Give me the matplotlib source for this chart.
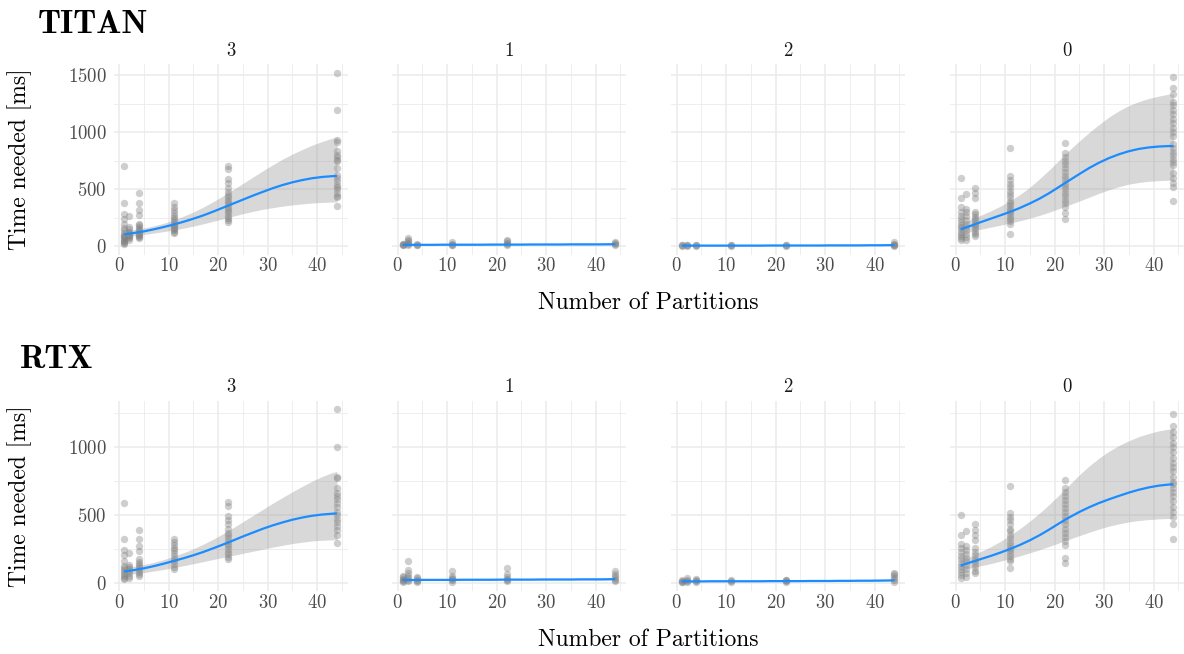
import numpy as np
import matplotlib.pyplot as plt

plt.rcParams['font.family'] = 'cmr10'
plt.rcParams['mathtext.fontset'] = 'cm'
plt.rcParams['axes.formatter.use_mathtext'] = True

partitions = [1, 2, 4, 11, 22, 44]
facets = ['3', '1', '2', '0']
fit_x = [1, 3, 5, 7, 9, 11, 13, 15, 17, 19, 21, 23, 25, 27, 29, 31, 33, 35, 37, 39, 41, 43, 44]

# ---- TITAN: measured times [ms], one list per partition count ----
titan_3 = [
    [706, 382, 282, 244, 200, 160, 140, 120, 100, 90, 80, 70, 60, 50, 40, 30, 25],
    [265, 170, 150, 130, 120, 110, 100, 90, 80, 70, 60],
    [465, 382, 323, 279, 200, 190, 170, 150, 140, 130, 120, 110, 100, 90, 80, 70],
    [382, 350, 318, 290, 270, 250, 230, 210, 200, 190, 180, 170, 160, 150, 140, 130, 120],
    [706, 676, 588, 553, 509, 480, 450, 430, 410, 390, 370, 350, 330, 310, 290, 270, 250, 230, 210],
    [1524, 1194, 929, 920, 841, 800, 780, 760, 750, 685, 630, 600, 570, 540, 520, 500, 470, 440, 430, 356],
]
titan_1 = [
    [10, 15, 20, 25],
    [10, 20, 30, 45, 60, 70],
    [10, 15, 20],
    [10, 15, 20, 35],
    [12, 20, 30, 45, 55],
    [12, 20, 30, 40],
]
titan_2 = [
    [5, 8, 10],
    [5, 8, 12],
    [5, 8, 10],
    [5, 8, 10],
    [5, 8, 10],
    [5, 10, 15, 25, 35],
]
titan_0 = [
    [603, 426, 347, 300, 270, 240, 210, 190, 170, 150, 130, 110, 90, 70, 55],
    [456, 330, 300, 270, 230, 200, 170, 140, 110, 80, 60],
    [515, 465, 421, 303, 280, 260, 240, 220, 200, 185, 170, 150, 130, 110, 90],
    [862, 618, 582, 550, 520, 490, 460, 430, 400, 380, 360, 340, 320, 300, 280, 260, 240, 220, 200, 112],
    [906, 818, 780, 750, 720, 690, 650, 620, 590, 560, 530, 500, 470, 440, 410, 380, 350, 294, 244],
    [1488, 1391, 1333, 1270, 1240, 1200, 1160, 1120, 1080, 1040, 1000, 965, 900, 860, 830, 800,
     770, 740, 710, 640, 600, 560, 523, 400],
]

# smoother (fit, lower, upper) read at fit_x
titan_3_fit = [105, 118, 132, 150, 170, 192, 216, 243, 272, 305, 340, 375, 410, 445, 478, 510,
               538, 562, 582, 598, 609, 616, 618]
titan_3_lo = [80, 93, 105, 117, 130, 144, 160, 178, 198, 220, 242, 265, 287, 307, 325, 340,
              353, 364, 373, 381, 386, 389, 390]
titan_3_hi = [135, 148, 162, 180, 203, 232, 265, 302, 345, 392, 443, 497, 552, 607, 662, 715,
              765, 810, 850, 888, 920, 948, 958]
titan_1_fit = [14, 14, 14, 14, 15, 15, 15, 15, 15, 16, 16, 16, 16, 17, 17, 17, 17, 18, 18, 18, 18, 19, 19]
titan_1_lo = [10, 11, 11, 11, 12, 12, 12, 12, 13, 13, 13, 13, 13, 14, 14, 14, 14, 14, 14, 14, 14, 14, 14]
titan_1_hi = [18, 17, 17, 17, 18, 18, 18, 18, 18, 19, 19, 19, 19, 20, 20, 21, 21, 22, 22, 23, 23, 24, 24]
titan_2_fit = [7, 7, 7, 7, 7, 7, 7, 7, 7, 8, 8, 8, 8, 8, 8, 9, 9, 9, 9, 10, 10, 11, 11]
titan_2_lo = [5, 5, 5, 5, 6, 6, 6, 6, 6, 6, 6, 6, 6, 6, 6, 6, 6, 6, 7, 7, 7, 7, 7]
titan_2_hi = [9, 9, 9, 8, 8, 8, 8, 9, 9, 9, 9, 10, 10, 10, 10, 11, 11, 12, 12, 13, 13, 14, 15]
titan_0_fit = [150, 180, 212, 242, 272, 303, 338, 377, 420, 470, 525, 580, 635, 688, 735, 775,
               808, 835, 855, 868, 876, 880, 880]
titan_0_lo = [105, 128, 150, 168, 186, 205, 225, 248, 273, 302, 333, 365, 398, 432, 466, 497,
              524, 546, 561, 571, 577, 580, 580]
titan_0_hi = [200, 235, 272, 310, 352, 400, 455, 520, 595, 675, 760, 845, 925, 1000, 1070, 1135,
              1190, 1235, 1270, 1297, 1318, 1335, 1340]

# ---- RTX ----
rtx_3 = [
    [590, 321, 240, 209, 159, 125, 110, 95, 80, 65, 50, 40, 30],
    [221, 135, 120, 100, 85, 70, 55, 40],
    [388, 321, 273, 233, 174, 155, 140, 125, 110, 95, 80, 65, 50],
    [327, 302, 280, 260, 240, 220, 200, 180, 160, 140, 120, 100],
    [597, 565, 494, 462, 430, 400, 370, 350, 330, 310, 290, 270, 250, 230, 210, 190, 180],
    [1277, 1002, 776, 770, 700, 660, 640, 620, 590, 560, 520, 500, 470, 445, 420, 390, 355, 297],
]
rtx_1 = [
    [10, 15, 20, 30, 42, 54],
    [15, 25, 40, 54, 70, 96, 164],
    [8, 15, 25, 35, 45],
    [10, 20, 30, 40, 54, 86],
    [12, 20, 30, 45, 66, 110],
    [15, 25, 35, 50, 66, 86],
]
rtx_2 = [
    [5, 10, 15, 25],
    [8, 15, 25, 40],
    [8, 12, 20, 30],
    [8, 12, 20],
    [8, 12, 20, 25],
    [10, 20, 35, 50, 65, 75],
]
rtx_0 = [
    [498, 351, 285, 260, 230, 200, 175, 150, 125, 100, 80, 60, 40],
    [380, 272, 245, 215, 185, 160, 130, 100, 75, 45],
    [430, 388, 351, 314, 254, 230, 205, 180, 160, 140, 115, 90, 70],
    [712, 511, 486, 460, 430, 400, 380, 350, 330, 300, 280, 260, 240, 220, 200, 180, 160, 108],
    [756, 700, 670, 640, 610, 580, 550, 520, 490, 460, 430, 400, 370, 340, 310, 280, 181, 144],
    [1240, 1150, 1110, 1070, 1030, 1000, 960, 920, 880, 850, 820, 780, 745, 730, 700, 670,
     640, 600, 560, 520, 486, 437, 326],
]

rtx_3_fit = [85, 95, 108, 124, 142, 162, 182, 204, 228, 255, 283, 312, 342, 370, 398, 423,
             445, 465, 481, 494, 503, 509, 511]
rtx_3_lo = [62, 68, 77, 88, 100, 113, 127, 142, 157, 173, 188, 203, 218, 233, 248, 263,
            277, 290, 300, 309, 314, 317, 318]
rtx_3_hi = [113, 123, 136, 152, 172, 196, 222, 252, 285, 322, 362, 405, 450, 495, 540, 585,
            628, 670, 710, 748, 782, 810, 820]
rtx_1_fit = [22, 22, 23, 23, 23, 23, 24, 24, 24, 24, 25, 25, 25, 25, 26, 26, 26, 26, 27, 27, 27, 28, 28]
rtx_1_lo = [17, 18, 19, 19, 20, 20, 21, 21, 21, 21, 22, 22, 22, 22, 22, 22, 22, 22, 22, 22, 22, 22, 22]
rtx_1_hi = [27, 27, 27, 26, 26, 27, 27, 27, 27, 28, 28, 28, 29, 29, 30, 30, 31, 31, 32, 32, 33, 34, 34]
rtx_2_fit = [12, 12, 12, 13, 13, 13, 13, 13, 13, 14, 14, 14, 14, 15, 15, 15, 16, 16, 17, 17, 18, 19, 20]
rtx_2_lo = [9, 9, 10, 10, 10, 10, 11, 11, 11, 11, 11, 11, 11, 12, 12, 12, 12, 13, 13, 13, 13, 14, 14]
rtx_2_hi = [15, 15, 14, 14, 15, 15, 15, 15, 16, 16, 16, 17, 17, 18, 18, 19, 20, 20, 21, 22, 23, 25, 26]
rtx_0_fit = [128, 152, 175, 198, 223, 250, 280, 314, 352, 395, 440, 483, 522, 557, 588, 615,
             640, 664, 685, 702, 715, 723, 725]
rtx_0_lo = [92, 110, 126, 142, 160, 180, 200, 222, 245, 270, 296, 322, 348, 373, 397, 418,
            435, 449, 459, 466, 471, 474, 475]
rtx_0_hi = [165, 197, 230, 265, 305, 350, 400, 455, 515, 580, 650, 722, 795, 860, 918, 968,
            1010, 1045, 1075, 1098, 1117, 1130, 1135]

rows = [
    ('TITAN', [titan_3, titan_1, titan_2, titan_0],
     [(titan_3_fit, titan_3_lo, titan_3_hi), (titan_1_fit, titan_1_lo, titan_1_hi),
      (titan_2_fit, titan_2_lo, titan_2_hi), (titan_0_fit, titan_0_lo, titan_0_hi)],
     [0, 500, 1000, 1500]),
    ('RTX', [rtx_3, rtx_1, rtx_2, rtx_0],
     [(rtx_3_fit, rtx_3_lo, rtx_3_hi), (rtx_1_fit, rtx_1_lo, rtx_1_hi),
      (rtx_2_fit, rtx_2_lo, rtx_2_hi), (rtx_0_fit, rtx_0_lo, rtx_0_hi)],
     [0, 500, 1000]),
]

W, H = 1184, 654
fig = plt.figure(figsize=(W / 100, H / 100), dpi=100)

panel_left = [113.5, 392, 671, 950]
panel_w = 234
row_top = [64, 400.5]
panel_h = 190.5
title_pos = [(38, 33), (20, 368)]
xlab_y = [303, 640]

grid_col = '#ebebeb'

for r, (name, pts_list, fits, yticks) in enumerate(rows):
    allv = [v for pts in pts_list for vals in pts for v in vals]
    lo_v, hi_v = min(allv), max(allv)
    pad = 0.05 * (hi_v - lo_v)
    ylim = (lo_v - pad, hi_v + pad)
    for c in range(4):
        ax = fig.add_axes([panel_left[c] / W, 1 - (row_top[r] + panel_h) / H,
                           panel_w / W, panel_h / H])
        xs, ys = [], []
        for p, vals in zip(partitions, pts_list[c]):
            xs += [p] * len(vals)
            ys += vals
        ax.scatter(xs, ys, s=28, color='#7f7f7f', alpha=0.38, linewidths=0, zorder=2)
        fit, lo, hi = fits[c]
        ax.fill_between(fit_x, lo, hi, color='#999999', alpha=0.38, linewidth=0, zorder=3)
        ax.plot(fit_x, fit, color='#1a8cff', lw=1.6, zorder=4, solid_capstyle='butt')

        ax.set_xlim(-1.15, 46.15)
        ax.set_ylim(*ylim)
        ax.set_xticks([0, 10, 20, 30, 40])
        ax.set_xticks([5, 15, 25, 35, 45], minor=True)
        ax.set_yticks(yticks)
        ax.set_yticks([250, 750, 1250], minor=True)
        ax.grid(which='major', color=grid_col, lw=1.1)
        ax.grid(which='minor', color=grid_col, lw=0.6)
        ax.set_axisbelow(True)
        for s in ax.spines.values():
            s.set_visible(False)
        ax.tick_params(which='both', length=0, labelsize=13.5, labelcolor='#4d4d4d')
        ax.tick_params(axis='x', pad=2)
        ax.tick_params(axis='y', pad=5)
        if c > 0:
            ax.set_yticklabels([])
        ax.set_title(facets[c], fontsize=13.5, color='#1a1a1a', pad=6)

    fig.text(title_pos[r][0] / W, 1 - title_pos[r][1] / H, name, family='cmb10',
             fontsize=24, ha='left', va='baseline', color='black')
    fig.text(20 / W, 1 - (row_top[r] + panel_h / 2) / H, 'Time needed [ms]',
             rotation=90, fontsize=17, ha='center', va='center')
    fig.text((panel_left[0] + W) / 2 / W, 1 - xlab_y[r] / H, 'Number of Partitions',
             fontsize=17, ha='center', va='center')

fig.savefig('out.png', dpi=100)
